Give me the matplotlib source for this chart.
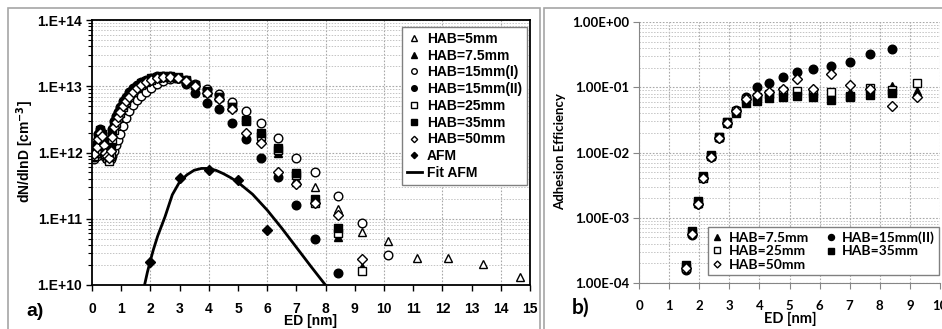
import numpy as np
import matplotlib.pyplot as plt
from matplotlib.patches import Rectangle
from matplotlib.ticker import FixedLocator, FuncFormatter, LogLocator, NullFormatter

plt.rcParams['font.family'] = ['Liberation Sans', 'DejaVu Sans']
plt.rcParams['font.weight'] = 'bold'

#------------------------------------------------------------
# panel a) size distributions, dN/dlnD [cm^-3] (values in units of 1e12)
ed_a = [0.08, 0.16, 0.22, 0.28, 0.34, 0.40, 0.46, 0.52, 0.58, 0.64,
        0.70, 0.76, 0.82, 0.88, 0.96, 1.06, 1.16, 1.27, 1.40, 1.53,
        1.68, 1.84, 2.02, 2.22, 2.44, 2.67, 2.93, 3.22, 3.53, 3.94,
        4.35, 4.80, 5.27, 5.79, 6.37, 7.00, 7.64, 8.43, 9.25, 10.14,
        11.13, 12.20, 13.40, 14.66]

hab5 = [0.95, 1.25, 1.7, 2.1, 1.8, 1.35, 1.1, 0.95, 0.88, 1.15,
        1.8, 2.5, 3.0, 3.5, 4.2, 5.1, 6.0, 7.1, 8.4, 9.6,
        10.8, 11.8, 12.8, 13.5, 14.0, 14.0, 13.4, 12.2, 10.6, 8.6,
        7.1, 5.3, 3.5, 2.0, 1.15, 0.40, 0.30, 0.14, 0.063, 0.046,
        0.026, 0.026, 0.021, 0.013]
hab7_5 = [0.92, 1.2, 1.65, 2.05, 1.75, 1.3, 1.05, 0.92, 0.85, 1.1,
          1.75, 2.45, 2.95, 3.45, 4.1, 5.0, 5.9, 7.0, 8.3, 9.5,
          10.7, 11.7, 12.7, 13.4, 13.9, 13.9, 13.3, 12.1, 10.4, 8.3,
          6.8, 5.0, 3.2, 1.65, 0.98, 0.36, 0.19, 0.053, 0.019]
hab15_i = [0.80, 0.90, 1.0, 1.1, 1.05, 0.95, 0.85, 0.80, 0.76, 0.80,
           0.90, 1.05, 1.3, 1.55, 1.9, 2.5, 3.3, 4.2, 5.2, 6.1,
           7.1, 8.1, 9.3, 10.7, 12.0, 13.0, 13.2, 12.4, 11.0, 9.2,
           7.6, 5.8, 4.3, 2.8, 1.66, 0.83, 0.51, 0.22, 0.087, 0.028]
hab15_ii = [0.85, 1.3, 1.9, 2.3, 2.0, 1.5, 1.2, 1.0, 0.95, 1.5,
            2.3, 3.0, 3.5, 4.1, 4.9, 5.9, 7.0, 8.1, 9.4, 10.5,
            11.6, 12.6, 13.5, 14.2, 14.5, 14.2, 13.2, 11.0, 7.8, 5.6,
            4.6, 2.8, 1.6, 0.83, 0.42, 0.16, 0.049, 0.015]
hab25 = [0.90, 1.1, 1.5, 1.9, 1.7, 1.25, 0.95, 0.82, 0.74, 0.95,
         1.5, 2.2, 2.8, 3.3, 4.0, 4.9, 5.8, 6.9, 8.1, 9.3,
         10.5, 11.6, 12.6, 13.3, 13.8, 13.8, 13.2, 12.0, 10.4, 8.4,
         6.8, 4.9, 3.0, 1.8, 1.1, 0.46, 0.17, 0.060, 0.016]
hab35 = [1.0, 1.3, 1.8, 2.2, 1.9, 1.4, 1.1, 0.92, 0.85, 1.2,
         2.0, 2.7, 3.2, 3.7, 4.4, 5.3, 6.3, 7.4, 8.7, 9.9,
         11.1, 12.1, 13.1, 13.8, 14.2, 14.2, 13.6, 12.3, 10.5, 8.2,
         6.9, 4.9, 3.1, 2.0, 1.17, 0.49, 0.20, 0.073]
hab50 = [0.95, 1.2, 1.6, 2.0, 1.8, 1.3, 1.0, 0.88, 0.82, 1.05,
         1.7, 2.4, 2.9, 3.4, 4.1, 5.0, 5.9, 7.0, 8.2, 9.4,
         10.6, 11.6, 12.6, 13.3, 13.8, 13.8, 13.2, 12.0, 10.2, 8.0,
         6.5, 4.6, 2.0, 1.4, 0.51, 0.34, 0.17, 0.115, 0.025]

afm_x = [2, 3, 4, 5, 6]
afm_y = [0.022, 0.41, 0.55, 0.38, 0.068]

fit_x = [1.80, 1.90, 2.00, 2.10, 2.25, 2.50, 2.75, 3.00, 3.25, 3.50,
         3.75, 4.00, 4.25, 4.50, 4.75, 5.00, 5.50, 6.00, 6.50, 7.00,
         7.50, 8.05]
fit_y = [0.010, 0.0158, 0.0234, 0.0339, 0.055, 0.107, 0.23, 0.36, 0.46, 0.54,
         0.575, 0.575, 0.537, 0.479, 0.417, 0.355, 0.234, 0.135, 0.072, 0.037,
         0.019, 0.0093]

#------------------------------------------------------------
# panel b) adhesion efficiency
ed_b = [1.55, 1.75, 1.95, 2.13, 2.38, 2.65, 2.93, 3.23, 3.56, 3.93,
        4.33, 4.77, 5.26, 5.79, 6.38, 7.02, 7.68, 8.42, 9.25]
ae7_5 = [1.8e-4, 6.0e-4, 1.7e-3, 4.2e-3, 9.0e-3, 1.7e-2, 2.8e-2, 4.3e-2, 6.4e-2, 6.8e-2,
         7.8e-2, 8.4e-2, 8.6e-2, 8.3e-2, 8.0e-2, 8.5e-2, 8.3e-2, 1.05e-1, 8.9e-2]
ae15_ii = [1.6e-4, 5.5e-4, 1.6e-3, 4.0e-3, 8.5e-3, 1.65e-2, 2.8e-2, 4.5e-2, 7.1e-2, 1.0e-1,
           1.15e-1, 1.44e-1, 1.7e-1, 1.9e-1, 2.1e-1, 2.4e-1, 3.2e-1, 3.9e-1]
ae25 = [1.7e-4, 5.8e-4, 1.7e-3, 4.1e-3, 8.8e-3, 1.7e-2, 2.9e-2, 4.4e-2, 6.6e-2, 7.0e-2,
        8.0e-2, 8.8e-2, 8.8e-2, 8.6e-2, 8.5e-2, 7.0e-2, 9.8e-2, 9.0e-2, 1.15e-1]
ae35 = [1.9e-4, 6.3e-4, 1.8e-3, 4.4e-3, 9.3e-3, 1.75e-2, 2.9e-2, 4.1e-2, 5.8e-2, 6.2e-2,
        6.8e-2, 7.2e-2, 7.4e-2, 7.0e-2, 6.4e-2, 7.4e-2, 7.5e-2, 8.2e-2]
ae50 = [1.7e-4, 5.7e-4, 1.65e-3, 4.0e-3, 8.6e-3, 1.65e-2, 2.8e-2, 4.3e-2, 6.5e-2, 7.5e-2,
        8.5e-2, 9.3e-2, 1.33e-1, 9.3e-2, 1.6e-1, 1.1e-1, 9.3e-2, 5.2e-2, 7.1e-2]

#------------------------------------------------------------
W, H = 942, 329
fig = plt.figure(figsize=(W / 100, H / 100), dpi=100)

# outer frames of the two panels
for x0, x1 in [(8, 540), (544, W + 5)]:
    fig.patches.append(Rectangle((x0 / W, -0.1), (x1 - x0) / W, (H - 8) / H + 0.1,
                                 transform=fig.transFigure, fill=False,
                                 ec='#a6a6a6', lw=1.2))

grid_kw = dict(color='#a8a8a8', ls=(0, (1.5, 1.5)), lw=0.8)
ms = 6.2
open_kw = dict(ls='none', mfc='white', mec='black', mew=1.0, ms=ms)
fill_kw = dict(ls='none', color='black', ms=ms)

#------------------------------------------------------------
# panel a)
ax = fig.add_axes([92 / W, 1 - 285 / H, (530 - 92) / W, (285 - 20) / H])
ax.set_yscale('log')
series_a = [('HAB=5mm', hab5, '^', open_kw),
            ('HAB=7.5mm', hab7_5, '^', fill_kw),
            ('HAB=15mm(I)', hab15_i, 'o', open_kw),
            ('HAB=15mm(II)', hab15_ii, 'o', fill_kw),
            ('HAB=25mm', hab25, 's', open_kw),
            ('HAB=35mm', hab35, 's', fill_kw),
            ('HAB=50mm', hab50, 'D', open_kw)]
for label, vals, m, kw in series_a:
    v = np.array(vals) * 1e12
    kw = dict(kw)
    if m == 'D':
        kw['ms'] = ms * 0.8
    ax.plot(ed_a[:len(v)], v, marker=m, label=label, **kw)
ax.plot(afm_x, np.array(afm_y) * 1e12, 'D', color='black', ms=ms * 0.8, label='AFM')
ax.plot(fit_x, np.array(fit_y) * 1e12, '-', color='black', lw=2.0, label='Fit AFM')

ax.set_xlim(0, 15)
ax.set_ylim(1e10, 1e14)
ax.xaxis.set_major_locator(FixedLocator(range(0, 16)))
ax.yaxis.set_major_locator(LogLocator(base=10))
ax.yaxis.set_minor_locator(LogLocator(base=10, subs=np.arange(2, 10)))
ax.yaxis.set_minor_formatter(NullFormatter())
ax.yaxis.set_major_formatter(FuncFormatter(lambda v, p: '1.E+%02d' % round(np.log10(v))))
ax.tick_params(axis='both', which='major', direction='out', length=4, width=1,
               labelsize=10, pad=3)
ax.tick_params(axis='y', which='minor', direction='out', length=3, width=0.8)
ax.tick_params(axis='x', pad=8)
ax.grid(True, axis='y', which='major', **grid_kw)
ax.grid(True, axis='y', which='minor', color='#c4c4c4', ls=(0, (1.5, 1.5)), lw=0.7)
for v in range(2, 15, 2):
    ax.axvline(v, zorder=0, **grid_kw)
ax.set_axisbelow(True)
for sp in ax.spines.values():
    sp.set_linewidth(1.3)

leg = ax.legend(loc='upper right', bbox_to_anchor=(0.993, 0.974), borderaxespad=0,
                fontsize=10, markerscale=0.65, handlelength=1.1, handletextpad=0.35,
                labelspacing=0.2, borderpad=0.35, fancybox=False, framealpha=1,
                edgecolor='#808080')
leg.get_frame().set_linewidth(1.0)

fig.text(311 / W, 1 - 321 / H, 'ED [nm]', ha='center', va='center', fontsize=10)
fig.text(25 / W, 1 - 152 / H, 'dN/dlnD [cm$^{\\mathbf{-3}}$]', rotation=90,
         ha='center', va='center', fontsize=10)
fig.text(35 / W, 1 - 311 / H, 'a)', ha='center', va='center', fontsize=14)

#------------------------------------------------------------
# panel b)
cal = ['Lato', 'DejaVu Sans']
ax2 = fig.add_axes([639 / W, 1 - 283 / H, (940 - 639) / W, (283 - 22) / H])
ax2.set_yscale('log')
series_b = [('HAB=7.5mm', ae7_5, '^', fill_kw),
            ('HAB=15mm(II)', ae15_ii, 'o', fill_kw),
            ('HAB=25mm', ae25, 's', open_kw),
            ('HAB=35mm', ae35, 's', fill_kw),
            ('HAB=50mm', ae50, 'D', open_kw)]
handles = {}
for label, vals, m, kw in series_b:
    kw = dict(kw)
    if m == 'D':
        kw['ms'] = ms * 0.8
    handles[label], = ax2.plot(ed_b[:len(vals)], vals, marker=m, label=label, **kw)

ax2.set_xlim(0, 10)
ax2.set_ylim(1e-4, 1)
ax2.xaxis.set_major_locator(FixedLocator(range(0, 11)))
ax2.yaxis.set_major_locator(LogLocator(base=10))
ax2.yaxis.set_minor_locator(LogLocator(base=10, subs=np.arange(2, 10)))
ax2.yaxis.set_minor_formatter(NullFormatter())
ax2.yaxis.set_major_formatter(FuncFormatter(
    lambda v, p: '1.00E%+03d' % round(np.log10(v))))
ax2.tick_params(axis='both', which='major', direction='out', length=4, width=0.8,
                color='#868686', labelsize=9.5, pad=3)
ax2.tick_params(axis='x', pad=8)
ax2.tick_params(axis='y', which='minor', length=0)
ax2.grid(True, which='major', **grid_kw)
ax2.grid(True, axis='y', which='minor', color='#c4c4c4', ls=(0, (1.5, 1.5)), lw=0.7)
ax2.set_axisbelow(True)
for s in ['top', 'right']:
    ax2.spines[s].set_visible(False)
for s in ['left', 'bottom']:
    ax2.spines[s].set_color('#868686')
    ax2.spines[s].set_linewidth(0.8)
for lab in ax2.get_xticklabels() + ax2.get_yticklabels():
    lab.set_family(cal)

order = ['HAB=7.5mm', 'HAB=25mm', 'HAB=50mm', 'HAB=15mm(II)', 'HAB=35mm']
leg2 = ax2.legend([handles[k] for k in order], order, ncol=2, loc='lower right',
                  bbox_to_anchor=(0.997, 0.031), borderaxespad=0,
                  prop=dict(family=cal, size=10, weight='bold'), markerscale=0.7,
                  handlelength=0.8, handletextpad=0.4, labelspacing=0.1,
                  columnspacing=1.2, borderpad=0.3, fancybox=False, framealpha=1,
                  edgecolor='#808080')
leg2.get_frame().set_linewidth(1.0)

fig.text(790 / W, 1 - 319 / H, 'ED [nm]', ha='center', va='center', fontsize=10.5,
         family=cal)
fig.text(560 / W, 1 - 152 / H, 'Adhesion Efficiency', rotation=90,
         ha='center', va='center', fontsize=9.5, family=cal)
fig.text(581 / W, 1 - 308 / H, 'b)', ha='center', va='center', fontsize=15,
         family=cal)

fig.savefig('out.png', dpi=100)
